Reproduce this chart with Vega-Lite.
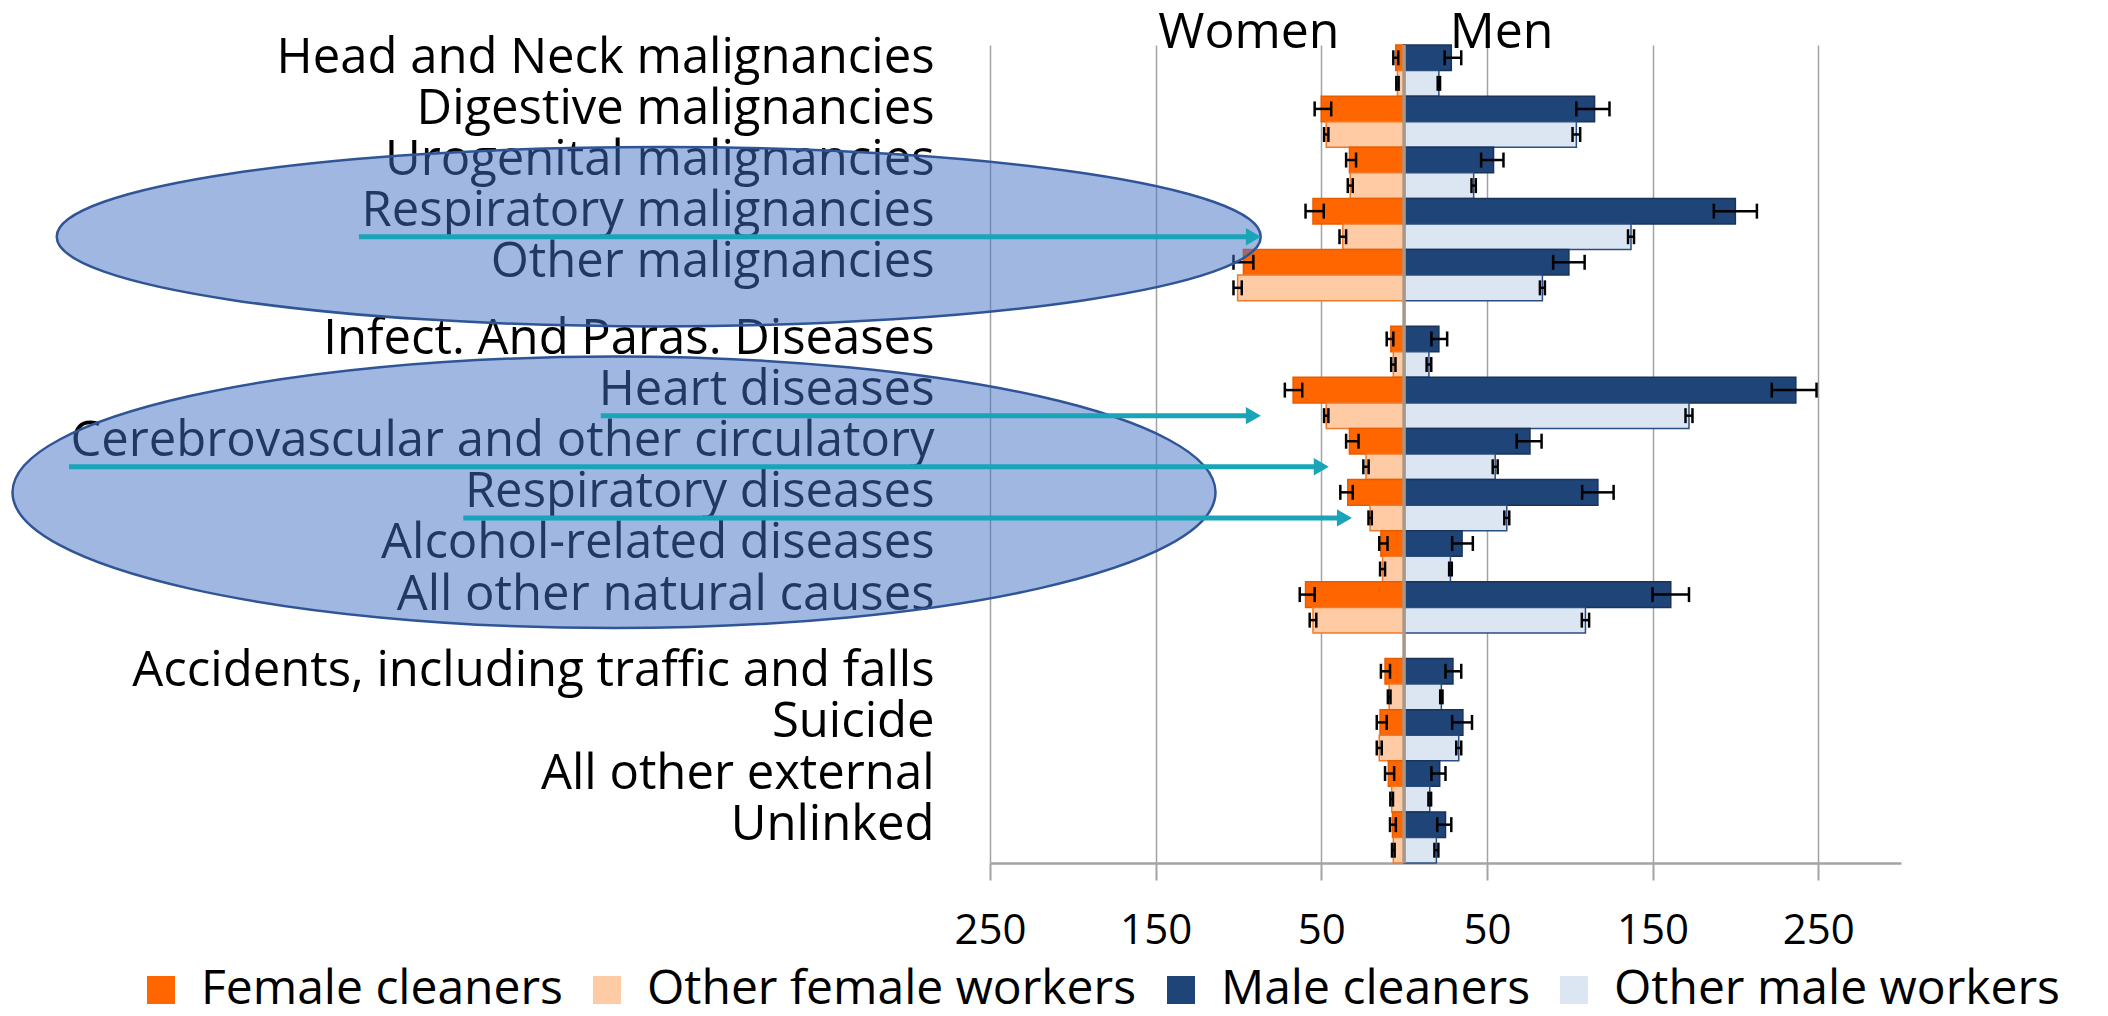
{
  "$schema": "https://vega.github.io/schema/vega-lite/v6.json",
  "width": 911,
  "height": 818,
  "autosize": {"type": "none"},
  "padding": {"left": 990, "top": 45, "right": 207, "bottom": 153},
  "config": {
    "font": "Open Sans",
    "view": {"stroke": null},
    "axis": {"labelFont": "Open Sans", "labelColor": "#000000"},
    "legend": {"labelFont": "Open Sans", "labelColor": "#000000"}
  },
  "datasets": {
    "main": [
      {"cause": "Head and Neck malignancies", "group": "Female cleaners", "value": -5, "lo": -6.5, "hi": -3.5},
      {"cause": "Head and Neck malignancies", "group": "Other female workers", "value": -4, "lo": -4.7, "hi": -3.3},
      {"cause": "Head and Neck malignancies", "group": "Male cleaners", "value": 28.5, "lo": 24.5, "hi": 34.5},
      {"cause": "Head and Neck malignancies", "group": "Other male workers", "value": 21, "lo": 20.3, "hi": 21.7},
      {"cause": "Digestive malignancies", "group": "Female cleaners", "value": -50, "lo": -54, "hi": -44},
      {"cause": "Digestive malignancies", "group": "Other female workers", "value": -47, "lo": -48.3, "hi": -45.7},
      {"cause": "Digestive malignancies", "group": "Male cleaners", "value": 115, "lo": 104, "hi": 124},
      {"cause": "Digestive malignancies", "group": "Other male workers", "value": 104, "lo": 101.7, "hi": 106.3},
      {"cause": "Urogenital malignancies", "group": "Female cleaners", "value": -33, "lo": -35, "hi": -29},
      {"cause": "Urogenital malignancies", "group": "Other female workers", "value": -32.5, "lo": -34, "hi": -31},
      {"cause": "Urogenital malignancies", "group": "Male cleaners", "value": 54, "lo": 46.5, "hi": 60},
      {"cause": "Urogenital malignancies", "group": "Other male workers", "value": 42, "lo": 40.7, "hi": 43.3},
      {"cause": "Respiratory malignancies", "group": "Female cleaners", "value": -55, "lo": -59.5, "hi": -48.5},
      {"cause": "Respiratory malignancies", "group": "Other female workers", "value": -37, "lo": -39, "hi": -35},
      {"cause": "Respiratory malignancies", "group": "Male cleaners", "value": 200, "lo": 187, "hi": 213},
      {"cause": "Respiratory malignancies", "group": "Other male workers", "value": 137, "lo": 135.2, "hi": 138.8},
      {"cause": "Other malignancies", "group": "Female cleaners", "value": -97, "lo": -103, "hi": -91},
      {"cause": "Other malignancies", "group": "Other female workers", "value": -100.5, "lo": -103, "hi": -98},
      {"cause": "Other malignancies", "group": "Male cleaners", "value": 99.5, "lo": 90, "hi": 109},
      {"cause": "Other malignancies", "group": "Other male workers", "value": 83.5, "lo": 82, "hi": 85},
      {"cause": "Infect. And Paras. Diseases", "group": "Female cleaners", "value": -8, "lo": -10.5, "hi": -6.5},
      {"cause": "Infect. And Paras. Diseases", "group": "Other female workers", "value": -6.5, "lo": -7.8, "hi": -5.2},
      {"cause": "Infect. And Paras. Diseases", "group": "Male cleaners", "value": 21, "lo": 16.5, "hi": 26},
      {"cause": "Infect. And Paras. Diseases", "group": "Other male workers", "value": 15, "lo": 13.6, "hi": 16.4},
      {"cause": "Heart diseases", "group": "Female cleaners", "value": -67, "lo": -72, "hi": -61.5},
      {"cause": "Heart diseases", "group": "Other female workers", "value": -47, "lo": -48.3, "hi": -45.7},
      {"cause": "Heart diseases", "group": "Male cleaners", "value": 236.5, "lo": 222, "hi": 249},
      {"cause": "Heart diseases", "group": "Other male workers", "value": 172, "lo": 169.9, "hi": 174.1},
      {"cause": "Cerebrovascular and other circulatory", "group": "Female cleaners", "value": -33, "lo": -35, "hi": -27.5},
      {"cause": "Cerebrovascular and other circulatory", "group": "Other female workers", "value": -23, "lo": -24.6, "hi": -21.4},
      {"cause": "Cerebrovascular and other circulatory", "group": "Male cleaners", "value": 76, "lo": 68, "hi": 83},
      {"cause": "Cerebrovascular and other circulatory", "group": "Other male workers", "value": 55, "lo": 53.5, "hi": 56.5},
      {"cause": "Respiratory diseases", "group": "Female cleaners", "value": -34, "lo": -38.5, "hi": -31},
      {"cause": "Respiratory diseases", "group": "Other female workers", "value": -20.5, "lo": -21.5, "hi": -19.5},
      {"cause": "Respiratory diseases", "group": "Male cleaners", "value": 117, "lo": 107.5, "hi": 126.5},
      {"cause": "Respiratory diseases", "group": "Other male workers", "value": 62, "lo": 60.5, "hi": 63.5},
      {"cause": "Alcohol-related diseases", "group": "Female cleaners", "value": -14, "lo": -15, "hi": -10},
      {"cause": "Alcohol-related diseases", "group": "Other female workers", "value": -13, "lo": -14.5, "hi": -11.5},
      {"cause": "Alcohol-related diseases", "group": "Male cleaners", "value": 35, "lo": 29, "hi": 41.5},
      {"cause": "Alcohol-related diseases", "group": "Other male workers", "value": 28, "lo": 27.2, "hi": 28.8},
      {"cause": "All other natural causes", "group": "Female cleaners", "value": -59.5, "lo": -63, "hi": -54},
      {"cause": "All other natural causes", "group": "Other female workers", "value": -55, "lo": -57, "hi": -53},
      {"cause": "All other natural causes", "group": "Male cleaners", "value": 161, "lo": 150, "hi": 172},
      {"cause": "All other natural causes", "group": "Other male workers", "value": 109.5, "lo": 107.3, "hi": 111.7},
      {"cause": "Accidents, including traffic and falls", "group": "Female cleaners", "value": -11.5, "lo": -14, "hi": -8.5},
      {"cause": "Accidents, including traffic and falls", "group": "Other female workers", "value": -9, "lo": -9.8, "hi": -8.2},
      {"cause": "Accidents, including traffic and falls", "group": "Male cleaners", "value": 29.5, "lo": 25, "hi": 34.5},
      {"cause": "Accidents, including traffic and falls", "group": "Other male workers", "value": 22.5, "lo": 21.8, "hi": 23.2},
      {"cause": "Suicide", "group": "Female cleaners", "value": -14.5, "lo": -16.5, "hi": -10.5},
      {"cause": "Suicide", "group": "Other female workers", "value": -15, "lo": -16.5, "hi": -13.5},
      {"cause": "Suicide", "group": "Male cleaners", "value": 35.5, "lo": 29, "hi": 41},
      {"cause": "Suicide", "group": "Other male workers", "value": 33, "lo": 31.5, "hi": 34.5},
      {"cause": "All other external", "group": "Female cleaners", "value": -9.5, "lo": -11.5, "hi": -6},
      {"cause": "All other external", "group": "Other female workers", "value": -7.5, "lo": -8.3, "hi": -6.7},
      {"cause": "All other external", "group": "Male cleaners", "value": 21.5, "lo": 16.5, "hi": 25},
      {"cause": "All other external", "group": "Other male workers", "value": 15.5, "lo": 14.7, "hi": 16.3},
      {"cause": "Unlinked", "group": "Female cleaners", "value": -7, "lo": -8.5, "hi": -5},
      {"cause": "Unlinked", "group": "Other female workers", "value": -6.5, "lo": -7.3, "hi": -5.7},
      {"cause": "Unlinked", "group": "Male cleaners", "value": 25, "lo": 20, "hi": 28.5},
      {"cause": "Unlinked", "group": "Other male workers", "value": 19.5, "lo": 18.3, "hi": 20.7}
    ],
    "arrows": [
      {"row": "Respiratory malignancies|o", "from": -631, "head": -91},
      {"row": "Heart diseases|o", "from": -485, "head": -91},
      {"row": "Cerebrovascular and other circulatory|o", "from": -806, "head": -50},
      {"row": "Respiratory diseases|o", "from": -568, "head": -36}
    ]
  },
  "resolve": {"axis": {"x": "independent"}},
  "layer": [
    {
      "data": {"name": "main"},
      "transform": [{"calculate": "datum.cause + (indexof(datum.group, 'Other') === 0 ? '|o' : '')", "as": "row"}],
      "mark": {"type": "bar", "strokeWidth": 1.5},
      "encoding": {
        "y": {
          "field": "row", "type": "nominal", "sort": null,
          "scale": {"domain": ["Head and Neck malignancies", "Head and Neck malignancies|o", "Digestive malignancies", "Digestive malignancies|o", "Urogenital malignancies", "Urogenital malignancies|o", "Respiratory malignancies", "Respiratory malignancies|o", "Other malignancies", "Other malignancies|o", "|gap1", "Infect. And Paras. Diseases", "Infect. And Paras. Diseases|o", "Heart diseases", "Heart diseases|o", "Cerebrovascular and other circulatory", "Cerebrovascular and other circulatory|o", "Respiratory diseases", "Respiratory diseases|o", "Alcohol-related diseases", "Alcohol-related diseases|o", "All other natural causes", "All other natural causes|o", "|gap2", "Accidents, including traffic and falls", "Accidents, including traffic and falls|o", "Suicide", "Suicide|o", "All other external", "All other external|o", "Unlinked", "Unlinked|o"], "paddingInner": 0, "paddingOuter": 0},
          "axis": {"title": null, "labelExpr": "indexof(datum.value, '|') >= 0 ? '' : datum.value", "ticks": false, "domain": false, "grid": false, "labelFontSize": 49, "labelPadding": 56, "labelLimit": 2000, "labelBaseline": "middle", "labelOverlap": false}
        },
        "x": {
          "field": "value", "type": "quantitative",
          "scale": {"domain": [-250, 300], "nice": false, "zero": false},
          "axis": {"orient": "bottom", "title": null, "values": [-250, -150, -50, 50, 150, 250], "labelExpr": "abs(datum.value)", "grid": true, "gridColor": "#A3A3A3", "gridWidth": 1.5, "domainColor": "#A3A3A3", "domainWidth": 2.5, "tickColor": "#A3A3A3", "tickWidth": 2, "tickSize": 17, "labelFontSize": 42, "labelPadding": 30, "labelFlush": false, "labelOverlap": false}
        },
        "x2": {"datum": 0},
        "fill": {
          "field": "group", "type": "nominal",
          "scale": {"domain": ["Female cleaners", "Other female workers", "Male cleaners", "Other male workers"], "range": ["#FF6600", "#FFCBA4", "#1F4477", "#DCE6F2"]},
          "legend": {"orient": "none", "legendX": -853, "legendY": 921, "direction": "horizontal", "title": null, "symbolType": "square", "symbolSize": 784, "symbolStrokeWidth": 0, "labelFontSize": 48, "labelOffset": 16, "columnPadding": 20, "labelLimit": 1000,
            "encode": {"symbols": {"update": {"fill": {"signal": "datum.value === 'Other male workers' ? '#BDD7EE' : datum.value === 'Other female workers' ? '#F8CBAD' : datum.value === 'Male cleaners' ? '#1F3864' : '#FF6600'"}}}}}
        },
        "stroke": {
          "field": "group", "type": "nominal",
          "scale": {"domain": ["Female cleaners", "Other female workers", "Male cleaners", "Other male workers"], "range": ["#E65C00", "#EE7A2A", "#1A3358", "#2A4E80"]},
          "legend": null
        }
      }
    },
    {
      "data": {"values": [{}]},
      "mark": {"type": "rule", "color": "#A89686", "strokeWidth": 3.5},
      "encoding": {
        "x": {
          "datum": 0, "type": "quantitative",
          "scale": {"domain": [-250, 300], "nice": false, "zero": false},
          "axis": {"orient": "top", "title": null, "values": [-94, 58.6], "labelExpr": "datum.value < 0 ? 'Women' : 'Men'", "ticks": false, "tickSize": 0, "domain": false, "grid": false, "labelFontSize": 50, "labelBaseline": "alphabetic", "labelPadding": -2, "labelFlush": false, "labelOverlap": false, "labelLimit": 1000}
        }
      }
    },
    {
      "data": {"name": "main"},
      "transform": [{"calculate": "datum.cause + (indexof(datum.group, 'Other') === 0 ? '|o' : '')", "as": "row"}],
      "mark": {"type": "rule", "color": "#000000", "strokeWidth": 2.5},
      "encoding": {
        "y": {"field": "row", "type": "nominal", "axis": {"title": null}},
        "x": {"field": "lo", "type": "quantitative", "scale": {"domain": [-250, 300], "nice": false, "zero": false}, "axis": null},
        "x2": {"field": "hi"}
      }
    },
    {
      "data": {"name": "main"},
      "transform": [{"calculate": "datum.cause + (indexof(datum.group, 'Other') === 0 ? '|o' : '')", "as": "row"}],
      "mark": {"type": "tick", "color": "#000000", "size": 15, "thickness": 2.5, "opacity": 1},
      "encoding": {
        "y": {"field": "row", "type": "nominal", "axis": {"title": null}},
        "x": {"field": "lo", "type": "quantitative", "scale": {"domain": [-250, 300], "nice": false, "zero": false}, "axis": null}
      }
    },
    {
      "data": {"name": "main"},
      "transform": [{"calculate": "datum.cause + (indexof(datum.group, 'Other') === 0 ? '|o' : '')", "as": "row"}],
      "mark": {"type": "tick", "color": "#000000", "size": 15, "thickness": 2.5, "opacity": 1},
      "encoding": {
        "y": {"field": "row", "type": "nominal", "axis": {"title": null}},
        "x": {"field": "hi", "type": "quantitative", "scale": {"domain": [-250, 300], "nice": false, "zero": false}, "axis": null}
      }
    },
    {
      "data": {"values": [{"row": "Respiratory malignancies|o", "x": -450}]},
      "mark": {"type": "point", "shape": "M1,0 C1,0.0823 0.5523,0.149 0,0.149 C-0.5523,0.149 -1,0.0823 -1,0 C-1,-0.0823 -0.5523,-0.149 0,-0.149 C0.5523,-0.149 1,-0.0823 1,0 Z", "size": 1449616, "filled": true, "fill": "#416FC3", "fillOpacity": 0.5, "stroke": "#2F5597", "strokeWidth": 2.5, "strokeOpacity": 1, "opacity": 1},
      "encoding": {
        "y": {"field": "row", "type": "nominal", "axis": {"title": null}},
        "x": {"field": "x", "type": "quantitative", "scale": {"domain": [-250, 300], "nice": false, "zero": false}, "axis": null}
      }
    },
    {
      "data": {"values": [{"row": "Respiratory diseases", "x": -477}]},
      "mark": {"type": "point", "shape": "M1,0 C1,0.1247 0.5523,0.2257 0,0.2257 C-0.5523,0.2257 -1,0.1247 -1,0 C-1,-0.1247 -0.5523,-0.2257 0,-0.2257 C0.5523,-0.2257 1,-0.1247 1,0 Z", "size": 1447209, "filled": true, "fill": "#416FC3", "fillOpacity": 0.5, "stroke": "#2F5597", "strokeWidth": 2.5, "strokeOpacity": 1, "opacity": 1},
      "encoding": {
        "y": {"field": "row", "type": "nominal", "axis": {"title": null}},
        "x": {"field": "x", "type": "quantitative", "scale": {"domain": [-250, 300], "nice": false, "zero": false}, "axis": null}
      }
    },
    {
      "data": {"name": "arrows"},
      "mark": {"type": "rule", "color": "#19A4B8", "strokeWidth": 5},
      "encoding": {
        "y": {"field": "row", "type": "nominal", "axis": {"title": null}},
        "x": {"field": "from", "type": "quantitative", "scale": {"domain": [-250, 300], "nice": false, "zero": false}, "axis": null},
        "x2": {"field": "head"}
      }
    },
    {
      "data": {"name": "arrows"},
      "mark": {"type": "point", "shape": "triangle-right", "size": 300, "filled": true, "color": "#19A4B8", "opacity": 1},
      "encoding": {
        "y": {"field": "row", "type": "nominal", "axis": {"title": null}},
        "x": {"field": "head", "type": "quantitative", "scale": {"domain": [-250, 300], "nice": false, "zero": false}, "axis": null}
      }
    }
  ]
}
